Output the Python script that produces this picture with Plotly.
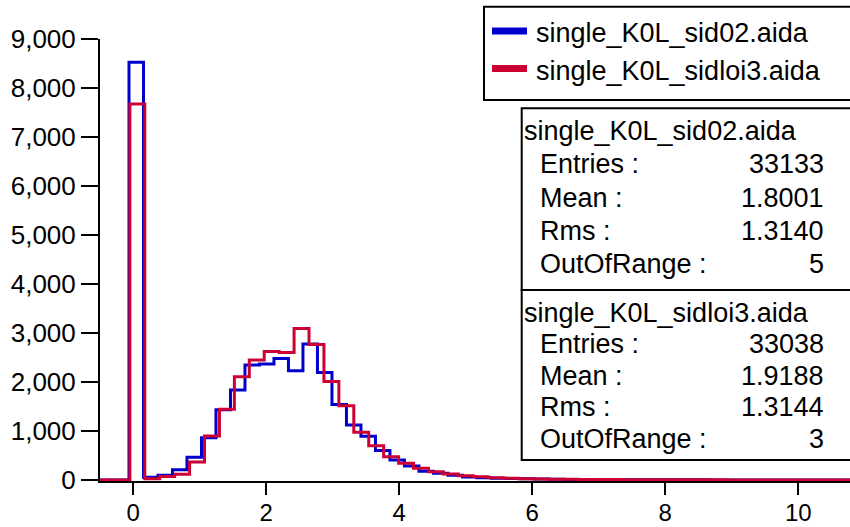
import numpy as np
import plotly.graph_objects as go

W, H = 850, 527

# ---------------- data ----------------
SERIES_NAMES = ["single_K0L_sid02.aida", "single_K0L_sidloi3.aida"]

BLUE_BIN_START = -0.5
BLUE_BIN_WIDTH = 0.218
BLUE_COUNTS = [0, 0, 8530, 55, 95, 210, 463, 864, 1435, 1840, 2350, 2370, 2480,
               2230, 2777, 2195, 1540, 1125, 895, 600, 408, 286, 177, 136, 95,
               61, 48, 38, 30, 24, 19, 15, 12, 10, 8, 7, 6, 5, 4, 4, 3, 3, 2,
               2, 2, 1, 1, 1, 1, 1, 1, 1]

RED_BIN_START = -0.5
RED_BIN_WIDTH = 0.2245
RED_COUNTS = [0, 0, 7680, 25, 70, 120, 370, 900, 1445, 2110, 2450, 2625, 2605,
              3095, 2765, 2010, 1515, 975, 700, 475, 340, 240, 170, 122, 85,
              68, 48, 36, 28, 22, 17, 14, 11, 9, 8, 7, 6, 5, 4, 4, 3, 3, 2,
              2, 2, 2, 1, 1, 1, 1, 1]

STAT_LABELS = ["Entries :", "Mean :", "Rms :", "OutOfRange :"]
BLUE_STATS = ["33133", "1.8001", "1.3140", "5"]
RED_STATS = ["33038", "1.9188", "1.3144", "3"]

X_TICKS = [0, 2, 4, 6, 8, 10]
Y_TICKS = [0, 1000, 2000, 3000, 4000, 5000, 6000, 7000, 8000, 9000]

BLUE = "#0000CC"
RED = "#CC0033"
FONT = "Liberation Sans, Arial, sans-serif"


def fx(px):
    return px / W


def fy(py):
    return 1 - py / H


fig = go.Figure()
for counts, start, width, color, name in [
    (BLUE_COUNTS, BLUE_BIN_START, BLUE_BIN_WIDTH, BLUE, SERIES_NAMES[0]),
    (RED_COUNTS, RED_BIN_START, RED_BIN_WIDTH, RED, SERIES_NAMES[1]),
]:
    edges = start + width * np.arange(len(counts) + 1)
    yv = list(counts) + [counts[-1]]
    fig.add_trace(go.Scatter(x=edges, y=yv, mode="lines", line_shape="hv",
                             line=dict(color=color, width=3), name=name,
                             showlegend=False, hoverinfo="skip"))

x_dom = [fx(100), 1.0]
y_dom = [fy(481), fy(39.3)]
x_rng = [-0.5, 10.778]
y_rng = [-20.4, 9000]

fig.update_layout(
    width=W, height=H,
    margin=dict(l=0, r=0, t=0, b=0, pad=0, autoexpand=False),
    paper_bgcolor="white", plot_bgcolor="white",
    showlegend=False,
    font=dict(family=FONT, color="black"),
    xaxis=dict(domain=x_dom, range=x_rng, tickvals=X_TICKS, ticks="outside",
               ticklen=12, tickwidth=2, tickcolor="black", showline=True,
               linewidth=2, linecolor="black", showgrid=False, zeroline=False,
               tickfont=dict(size=24, family=FONT, color="black"),
               ticklabelstandoff=-3, automargin=False,
               layer="below traces", fixedrange=True),
    yaxis=dict(domain=y_dom, range=y_rng, tickvals=Y_TICKS, tickformat=",",
               ticks="outside", ticklen=17, tickwidth=2, tickcolor="black",
               showline=True, linewidth=2, linecolor="black", showgrid=False,
               zeroline=False, tickfont=dict(size=26, family=FONT, color="black"),
               automargin=False, layer="below traces", fixedrange=True),
    xaxis2=dict(domain=x_dom, range=x_rng, tickvals=X_TICKS, ticks="inside",
                ticklen=11, tickwidth=2, tickcolor="black", showline=False,
                showgrid=False, zeroline=False, showticklabels=False,
                automargin=False, overlaying="x", anchor="y2", layer="below traces"),
    yaxis2=dict(domain=y_dom, range=y_rng, tickvals=Y_TICKS, ticks="inside",
                ticklen=12, tickwidth=2, tickcolor="black", showline=False,
                showgrid=False, zeroline=False, showticklabels=False,
                automargin=False, overlaying="y", anchor="x2", layer="below traces"),
)

shapes = []
annos = []
TXT = 27

# legend box
shapes.append(dict(type="rect", xref="paper", yref="paper", x0=fx(484), x1=fx(870),
                   y0=fy(100), y1=fy(6.7), line=dict(color="black", width=2),
                   fillcolor="white", layer="above"))
for i, (color, name) in enumerate([(BLUE, SERIES_NAMES[0]), (RED, SERIES_NAMES[1])]):
    cy = 31 + i * 37.5
    shapes.append(dict(type="rect", xref="paper", yref="paper", x0=fx(492), x1=fx(527),
                       y0=fy(cy + 3.5), y1=fy(cy - 3.5), line=dict(width=0),
                       fillcolor=color, layer="above"))
    annos.append(dict(xref="paper", yref="paper", x=fx(534), y=fy(cy + 2),
                      text=name, showarrow=False, xanchor="left", yanchor="middle",
                      font=dict(size=TXT, family=FONT, color="black")))

# stats boxes
boxes = [
    (108.3, 290, SERIES_NAMES[0], BLUE_STATS, 130, 33.3),
    (290, 460, SERIES_NAMES[1], RED_STATS, 311.5, 31.5),
]
for top, bot, name, vals, ty, dy in boxes:
    shapes.append(dict(type="rect", xref="paper", yref="paper", x0=fx(521.7), x1=fx(870),
                       y0=fy(bot), y1=fy(top), line=dict(color="black", width=2),
                       fillcolor="white", layer="above"))
    annos.append(dict(xref="paper", yref="paper", x=fx(522), y=fy(ty + 1),
                      text=name, showarrow=False, xanchor="left", yanchor="middle",
                      font=dict(size=TXT, family=FONT, color="black")))
    for j, (lab, val) in enumerate(zip(STAT_LABELS, vals)):
        yy = ty + dy * (j + 1) + 1
        annos.append(dict(xref="paper", yref="paper", x=fx(538), y=fy(yy),
                          text=lab, showarrow=False, xanchor="left", yanchor="middle",
                          font=dict(size=TXT, family=FONT, color="black")))
        annos.append(dict(xref="paper", yref="paper", x=fx(826), y=fy(yy),
                          text=val, showarrow=False, xanchor="right", yanchor="middle",
                          font=dict(size=TXT, family=FONT, color="black")))

fig.update_layout(shapes=shapes, annotations=annos)
fig.write_html("out.html")
